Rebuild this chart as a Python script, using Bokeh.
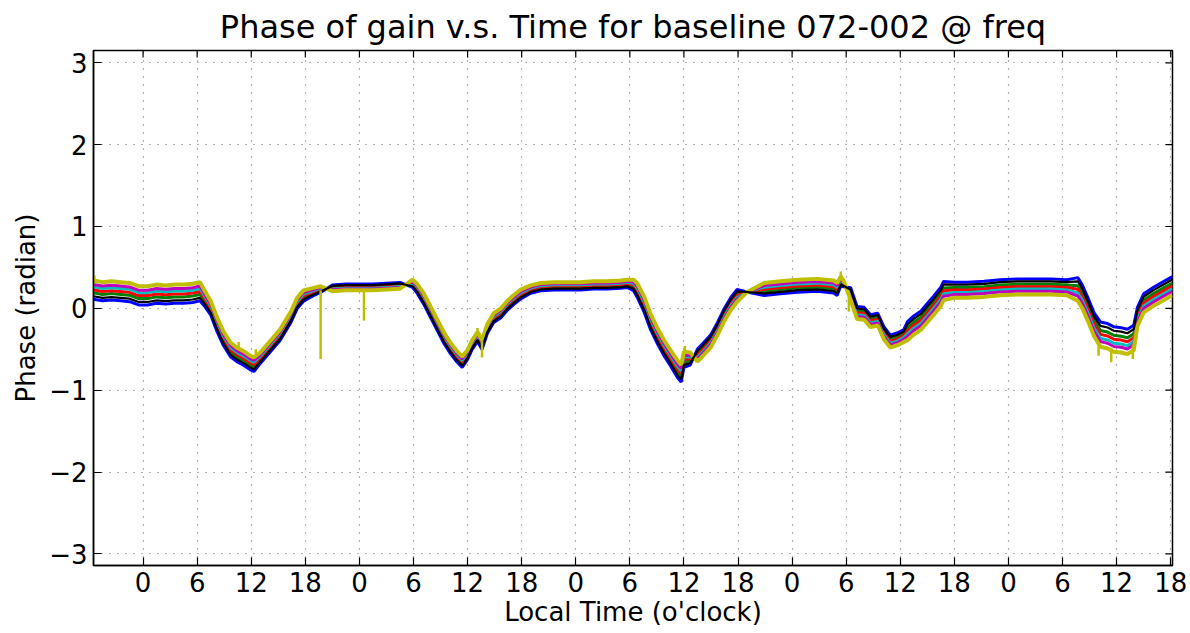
import numpy as np
from bokeh.plotting import figure
from bokeh.models import FixedTicker, Range1d
from bokeh.embed import file_html
from bokeh.resources import INLINE

TITLE = "Phase of gain v.s. Time for baseline 072-002 @ freq"
X_LABEL = "Local Time (o'clock)"
Y_LABEL = "Phase (radian)"

x_ticks = [0, 6, 12, 18, 24, 30, 36, 42, 48, 54, 60, 66, 72, 78, 84, 90, 96, 102, 108, 114]
x_tick_labels = ["0", "6", "12", "18"] * 5
y_ticks = [-3, -2, -1, 0, 1, 2, 3]
y_tick_labels = ["\u22123", "\u22122", "\u22121", "0", "1", "2", "3"]

# hours since the first local midnight
hours = [-5.5, -4.5, -3.5, -2.5, -1.5, -0.5, 0.5, 1.5, 2.5, 3.5, 4.5, 5.5,
         6.3, 6.8, 7.5, 8.2, 8.9, 9.7, 10.4, 11.1, 11.9, 12.3,
         13.0, 14.1, 15.2, 16.4, 17.1, 17.8, 18.9, 19.7,
         21.0, 22.5, 24.0, 25.5, 27.0, 28.5, 29.9, 30.4,
         31.1, 31.9, 32.6, 33.4, 34.1, 34.8, 35.4,
         36.0, 36.5, 37.1, 37.6, 38.2, 38.9, 39.7, 40.4, 41.1, 41.9,
         43.0, 44.1, 45.6, 47.0, 48.5, 50.0, 51.5, 53.0, 53.7,
         54.4, 54.8, 55.6, 56.3, 57.0, 57.8, 58.5, 59.3, 59.7,
         60.0, 60.7, 61.5, 62.2, 63.0, 63.7, 64.4, 65.2, 65.9,
         67.0, 68.9, 70.7, 72.6, 74.8, 76.6, 77.0, 77.4, 77.7,
         78.5, 79.2, 80.0, 80.7, 81.5, 82.2, 82.9, 83.7, 84.4,
         84.8, 85.5, 86.3, 87.0, 87.7, 88.5, 88.8,
         90.0, 91.4, 93.3, 95.1, 97.0, 98.8, 100.7, 102.5,
         103.7, 104.2, 104.8, 105.5, 106.2, 107.0, 107.7, 108.5, 109.2, 109.9,
         110.3, 111.0, 112.1, 113.2, 114.2]

# middle of the band of curves (radian)
center = [0.22, 0.20, 0.21, 0.20, 0.19, 0.15, 0.15, 0.17, 0.16, 0.17, 0.17, 0.18,
          0.20, 0.12, 0.00, -0.20, -0.37, -0.51, -0.57, -0.61, -0.67, -0.69,
          -0.61, -0.47, -0.33, -0.11, 0.06, 0.15, 0.20, 0.23,
          0.25, 0.26, 0.26, 0.26, 0.27, 0.28, 0.30, 0.24,
          0.12, -0.05, -0.20, -0.37, -0.49, -0.59, -0.66,
          -0.57, -0.45, -0.35, -0.45, -0.25, -0.12, -0.06, 0.03, 0.10, 0.17,
          0.23, 0.26, 0.27, 0.27, 0.27, 0.28, 0.28, 0.29, 0.30,
          0.28, 0.22, 0.04, -0.17, -0.33, -0.49, -0.61, -0.75, -0.80,
          -0.63, -0.62, -0.57, -0.49, -0.39, -0.25, -0.09, 0.06, 0.16,
          0.20, 0.23, 0.25, 0.27, 0.28, 0.26, 0.23, 0.33, 0.30,
          0.18, -0.05, -0.06, -0.15, -0.13, -0.30, -0.40, -0.37, -0.33,
          -0.27, -0.20, -0.14, -0.05, 0.04, 0.15, 0.22,
          0.23, 0.23, 0.24, 0.26, 0.27, 0.27, 0.27, 0.26,
          0.24, 0.15, 0.00, -0.19, -0.31, -0.33, -0.37, -0.38, -0.40, -0.35,
          -0.10, 0.07, 0.15, 0.22, 0.28]

# signed half width of the band (positive: yellow curve on top)
half_spread = [0.12, 0.12, 0.12, 0.12, 0.12, 0.12, 0.12, 0.12, 0.12, 0.12, 0.12, 0.12,
               0.12, 0.10, 0.09, 0.09, 0.09, 0.09, 0.09, 0.09, 0.09, 0.09,
               0.07, 0.07, 0.07, 0.07, 0.07, 0.07, 0.05, 0.04,
               -0.04, -0.04, -0.04, -0.04, -0.04, -0.04, 0.05, 0.06,
               0.07, 0.07, 0.07, 0.07, 0.07, 0.07, 0.07,
               0.06, 0.06, 0.06, 0.06, 0.06, 0.06, 0.06, 0.06, 0.06, 0.06,
               0.05, 0.05, 0.05, 0.05, 0.05, 0.05, 0.05, 0.05, 0.05,
               0.07, 0.09, 0.10, 0.10, 0.10, 0.10, 0.10, 0.11, 0.11,
               0.10, 0.08, -0.08, -0.08, -0.08, -0.08, -0.08, -0.08, -0.08,
               0.00, 0.08, 0.08, 0.08, 0.08, 0.08, 0.08, 0.06, 0.04,
               -0.08, -0.08, -0.08, -0.08, -0.08, -0.08, -0.08, -0.08, -0.08,
               -0.12, -0.12, -0.12, -0.12, -0.12, -0.12, -0.12,
               -0.10, -0.10, -0.10, -0.10, -0.10, -0.10, -0.10, -0.10,
               -0.15, -0.15, -0.15, -0.15, -0.16, -0.16, -0.16, -0.16, -0.16, -0.16,
               -0.12, -0.12, -0.12, -0.12, -0.12]

series_colors = ["#0000ff", "#008000", "#ff0000", "#00bfbf", "#bf00bf", "#bfbf00", "#000000"]
series_position = [-0.9, -0.25, 0.05, 0.35, 0.6, 1.0, -0.6]
series_width = [3.0, 3.0, 3.0, 3.0, 3.0, 4.0, 2.2]

# short dips / jumps of the yellow curve
spike_hours = [19.7, 24.5, 37.6, 77.4, 106.0, 107.4, 109.8, -5.4,
               10.6, 12.5, 37.1, 60.1, 78.3]
spike_from = [0.22, 0.22, -0.40, 0.36, -0.45, -0.48, -0.45, 0.30,
              -0.50, -0.60, -0.32, -0.55, 0.12]
spike_to = [-0.62, -0.15, -0.60, 0.45, -0.58, -0.66, -0.62, 0.40,
            -0.41, -0.50, -0.24, -0.46, -0.04]

X0, X1 = -5.5, 114.2
Y0, Y1 = -3.1416, 3.15
W, H = 1190, 633
BL, BR, BT, BB = 93, 18, 47, 68

p = figure(width=W, height=H,
           x_range=Range1d(X0, X1), y_range=Range1d(Y0, Y1),
           output_backend="svg", toolbar_location=None, title=TITLE,
           min_border_left=BL, min_border_right=BR,
           min_border_top=BT, min_border_bottom=BB)
p.background_fill_color = "white"
p.border_fill_color = "white"
p.outline_line_color = "black"
p.outline_line_width = 1.5

p.title.text_font = "DejaVu Sans"
p.title.text_font_size = "32px"
p.title.text_font_style = "normal"
p.title.align = "center"
p.title.text_color = "black"

p.xgrid.ticker = FixedTicker(ticks=x_ticks)
p.ygrid.ticker = FixedTicker(ticks=y_ticks)
for g in (p.xgrid[0], p.ygrid[0]):
    g.grid_line_color = "#000000"
    g.grid_line_alpha = 0.6
    g.grid_line_dash = "1 7"
    g.grid_line_width = 1.2

h = np.array(hours)
c = np.array(center)
s = np.array(half_spread)
for col, pos, lw in zip(series_colors, series_position, series_width):
    p.line(h, c + pos * s, line_color=col, line_width=lw)

p.segment(x0=spike_hours, y0=spike_from, x1=spike_hours, y1=spike_to,
          line_color="#bfbf00", line_width=2.5)

# inward tick marks on the top and right frame edges
tick_px = 7
dy = tick_px * (Y1 - Y0) / (H - BT - BB)
dx = tick_px * (X1 - X0) / (W - BL - BR)
p.segment(x0=x_ticks, y0=[Y1] * len(x_ticks), x1=x_ticks, y1=[Y1 - dy] * len(x_ticks),
          line_color="black", line_width=1.2)
p.segment(x0=[X1] * len(y_ticks), y0=y_ticks, x1=[X1 - dx] * len(y_ticks), y1=y_ticks,
          line_color="black", line_width=1.2)

font = "DejaVu Sans"
for ax in (p.xaxis[0], p.yaxis[0]):
    ax.major_tick_in = 8
    ax.major_tick_out = 0
    ax.minor_tick_line_color = None
    ax.axis_line_color = "black"
    ax.axis_line_width = 1.5
    ax.major_tick_line_color = "black"
    ax.major_tick_line_width = 1.2
    ax.major_label_text_font = font
    ax.major_label_text_font_size = "26px"
    ax.major_label_text_color = "black"
    ax.axis_label_text_font = font
    ax.axis_label_text_font_size = "26px"
    ax.axis_label_text_font_style = "normal"
    ax.axis_label_text_color = "black"

p.xaxis.ticker = FixedTicker(ticks=x_ticks)
p.xaxis.major_label_overrides = dict(zip(x_ticks, x_tick_labels))
p.xaxis.axis_label = X_LABEL
p.xaxis.major_label_standoff = 6
p.xaxis.axis_label_standoff = 2
p.yaxis.ticker = FixedTicker(ticks=y_ticks)
p.yaxis.major_label_overrides = dict(zip(y_ticks, y_tick_labels))
p.yaxis.axis_label = Y_LABEL
p.yaxis.major_label_standoff = 6
p.yaxis.axis_label_standoff = 5

open("out.html", "w").write(file_html(p, INLINE))
